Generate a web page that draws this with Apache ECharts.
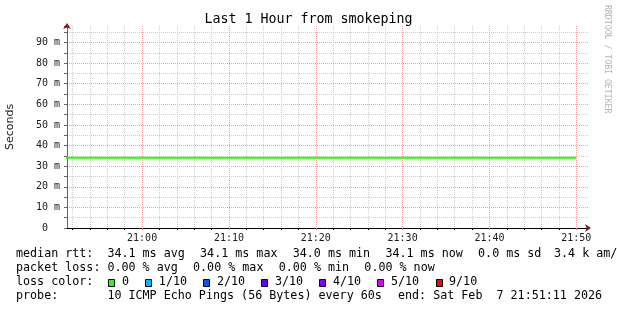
<!DOCTYPE html>
<html><head><meta charset="utf-8">
<script src="https://cdn.jsdelivr.net/npm/echarts@6/dist/echarts.min.js"></script>
<style>html,body{margin:0;padding:0;background:#fff}#c{width:617px;height:310px}</style>
</head><body><div id="c"></div>
<script>
// ---- data ----
const sampleTimes = ['20:51','20:55','21:00','21:05','21:10','21:15','21:20','21:25','21:30','21:35','21:40','21:45','21:50'];
const medianRttMs = [34.1,34.1,34.1,34.1,34.1,34.1,34.1,34.1,34.1,34.1,34.1,34.1,34.1];
const xTickLabels = ['21:00','21:10','21:20','21:30','21:40','21:50'];
const yTickLabels = ['0','10 m','20 m','30 m','40 m','50 m','60 m','70 m','80 m','90 m'];
const windowStart = '20:51:21';
const windowEnd = '21:51:21';
const yMaxMs = 98;
const titleText = 'Last 1 Hour from smokeping';
const yAxisName = 'Seconds';
const watermark = 'RRDTOOL / TOBI OETIKER';
const rttLabel = 'median rtt:';
const rttStats = ['34.1 ms avg','34.1 ms max','34.0 ms min','34.1 ms now','0.0 ms sd','3.4 k am/s'];
const lossLabel = 'packet loss:';
const lossStats = ['0.00 % avg','0.00 % max','0.00 % min','0.00 % now'];
const lossColorLabel = 'loss color:';
const lossLabels = ['0','1/10','2/10','3/10','4/10','5/10','9/10'];
const lossColors = ['#26ff00','#00b8ff','#0059ff','#5e00ff','#7e00ff','#dd00ff','#ff0000'];
const probeLabel = 'probe:';
const probeText = '10 ICMP Echo Pings (56 Bytes) every 60s';
const endText = 'end: Sat Feb  7 21:51:11 2026';

// ---- helpers ----
function toMin(t){const p=t.split(':').map(Number);return (p[0]-20)*60+p[1]+(p[2]||0)/60;}
function fmtMin(v){const r=Math.round(v);const h=20+Math.floor(r/60);const m=r%60;return h+':'+String(m).padStart(2,'0');}
const xMin = toMin(windowStart), xMax = toMin(windowEnd);
const majorX = xTickLabels.map(toMin);
const minorX = [];
for (let m = Math.ceil(xMin/2)*2; m <= xMax; m += 2) if (m % 10 !== 0) minorX.push(m);
const MONO = 'DejaVu Sans Mono';
const CW = 7.02, FS = 11.7, GAP = 15.45, X0 = 16, COL2 = 107.4;
const lineY = [254.3, 268.3, 282.3, 296.3];
const minorColor = '#cdcdcd', majorColor = '#f2a2a2', arrowColor = '#7d1c1c';

const chart = echarts.init(document.getElementById('c'), null, {renderer:'canvas'});

function txt(x,y,s,extra){return Object.assign({type:'text',x:x,y:y,silent:true,style:{text:s,fill:'#000',font:FS+'px "'+MONO+'"',textAlign:'left',textVerticalAlign:'middle'}},extra||{});}
const graphics = [];
graphics.push({type:'text',x:308.5,y:19.5,silent:true,style:{text:titleText,fill:'#000',font:'13.3px "'+MONO+'"',textAlign:'center',textVerticalAlign:'middle'}});
graphics.push({type:'text',x:607,y:5,rotation:-Math.PI/2,silent:true,style:{text:watermark,fill:'#b4b4b4',font:'8.2px "'+MONO+'"',textAlign:'left',textVerticalAlign:'middle'}});
// line 1
graphics.push(txt(X0,lineY[0],rttLabel));
let x = COL2;
rttStats.forEach((s,i)=>{ if(i===rttStats.length-1) x = 554; graphics.push(txt(x,lineY[0],s)); x += s.length*CW + GAP; });
// line 2
graphics.push(txt(X0,lineY[1],lossLabel));
x = COL2;
lossStats.forEach(s=>{ graphics.push(txt(x,lineY[1],s)); x += s.length*CW + GAP; });
// line 3
graphics.push(txt(X0,lineY[2],lossColorLabel));
x = COL2;
lossLabels.forEach((s,i)=>{
  graphics.push({type:'rect',silent:true,shape:{x:Math.round(x+1)+0.5,y:279.5,width:6,height:7},style:{fill:lossColors[i],stroke:'#000',lineWidth:1}});
  graphics.push(txt(x+14.5,lineY[2],s));
  x += 14.5 + s.length*CW + GAP;
});
// line 4
graphics.push(txt(X0,lineY[3],probeLabel));
graphics.push(txt(COL2,lineY[3],probeText));
graphics.push(txt(398,lineY[3],endText));

const option = {
  backgroundColor:'#fff',
  animation:false,
  grid:{left:67,right:29,top:26,bottom:82,containLabel:false,outerBoundsMode:'none'},
  xAxis:[
    {type:'value',min:xMin,max:xMax,position:'bottom',
     axisLine:{show:true,onZero:false,lineStyle:{color:'#000',width:1}},
     axisTick:{show:true,length:2,customValues:minorX,lineStyle:{color:'#000'}},
     axisLabel:{show:false},
     splitLine:{show:true,lineStyle:{color:minorColor,type:[1,1],width:1}}},
    {type:'value',min:xMin,max:xMax,position:'bottom',
     axisLine:{show:true,onZero:false,symbol:['none','arrow'],symbolSize:[6,6],symbolOffset:[0,3],lineStyle:{color:arrowColor,width:0}},
     axisTick:{show:true,length:2,customValues:majorX,lineStyle:{color:'#e08080'}},
     axisLabel:{show:true,margin:5,fontFamily:MONO,fontSize:10,color:'#1a1a1a',hideOverlap:false,customValues:majorX,
       formatter:function(v){return fmtMin(v);}},
     splitLine:{show:true,lineStyle:{color:majorColor,type:[1,1],width:1}}}
  ],
  yAxis:[
    {type:'value',min:0,max:yMaxMs,interval:5,position:'left',
     axisLine:{show:true,onZero:false,lineStyle:{color:'#666',width:1}},
     axisTick:{show:true,length:3,lineStyle:{color:'#666'}},
     axisLabel:{show:false},
     splitLine:{show:true,showMinLine:false,showMaxLine:false,lineStyle:{color:minorColor,type:[1,1],width:1}}},
    {type:'value',min:0,max:yMaxMs,interval:10,position:'left',
     name:yAxisName,nameLocation:'middle',nameGap:51,
     nameTextStyle:{fontFamily:'DejaVu Sans',fontSize:11,color:'#1a1a1a'},
     axisLine:{show:true,onZero:false,symbol:['none','arrow'],symbolSize:[6,6],symbolOffset:[0,3],lineStyle:{color:arrowColor,width:0}},
     axisTick:{show:false},
     axisLabel:{show:true,margin:7,fontFamily:MONO,fontSize:10,color:'#1a1a1a',
       formatter:function(v){const i=v/10;if(!Number.isInteger(i)||!yTickLabels[i])return '';const l=yTickLabels[i];return l.indexOf(' ')>=0?l:l+'  ';}},
     splitLine:{show:true,showMinLine:false,showMaxLine:false,lineStyle:{color:majorColor,type:[1,1],width:1}}}
  ],
  series:[{
    type:'line',xAxisIndex:0,yAxisIndex:0,showSymbol:false,clip:true,
    lineStyle:{color:lossColors[0],width:2},
    data:sampleTimes.map((t,i)=>[toMin(t),medianRttMs[i]])
  }],
  graphic:graphics
};
chart.setOption(option);
</script></body></html>
